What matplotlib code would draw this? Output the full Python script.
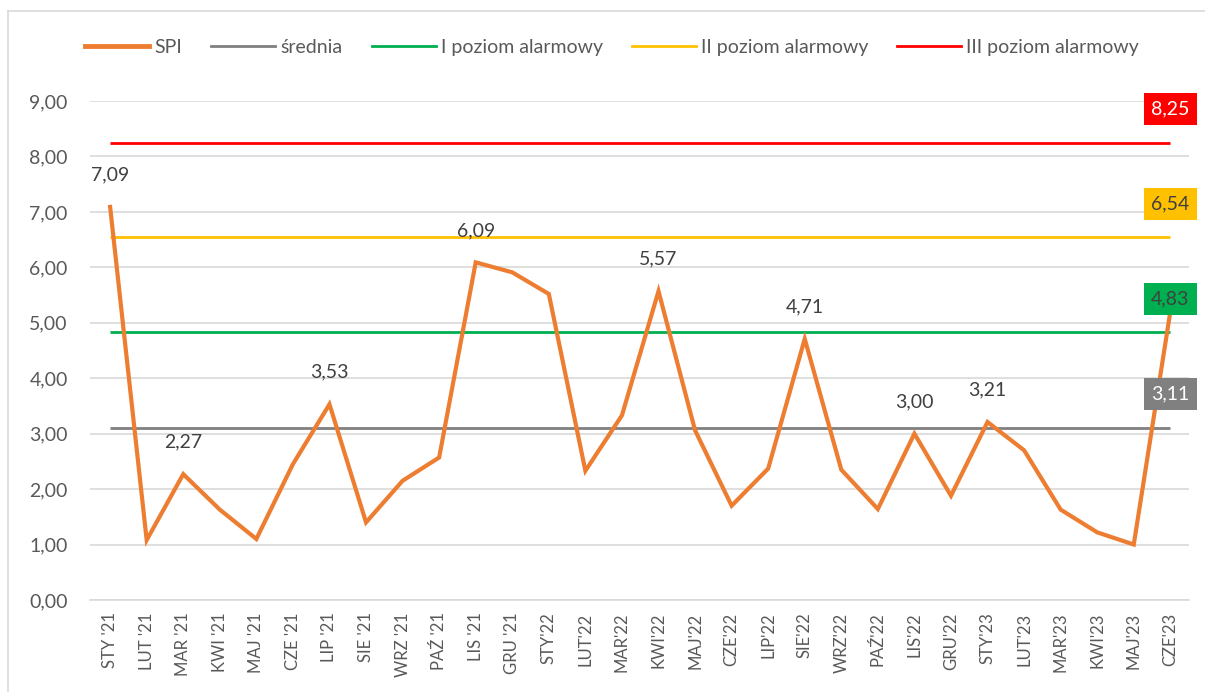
import matplotlib
matplotlib.use("Agg")
import matplotlib.pyplot as plt
from matplotlib.lines import Line2D

plt.rcParams['font.family'] = ['Lato', 'DejaVu Sans']

# -----------------------------
# Data
# -----------------------------
months = ["STY '21", "LUT '21", "MAR '21", "KWI '21", "MAJ '21", "CZE '21",
          "LIP '21", "SIE '21", "WRZ '21", "PAŹ '21", "LIS '21", "GRU '21",
          "STY'22", "LUT'22", "MAR'22", "KWI'22", "MAJ'22", "CZE'22",
          "LIP'22", "SIE'22", "WRZ'22", "PAŹ'22", "LIS'22", "GRU'22",
          "STY'23", "LUT'23", "MAR'23", "KWI'23", "MAJ'23", "CZE'23"]

spi = [7.09, 1.08, 2.27, 1.63, 1.10, 2.45,
       3.53, 1.40, 2.15, 2.57, 6.09, 5.91,
       5.52, 2.33, 3.33, 5.57, 3.06, 1.70,
       2.37, 4.71, 2.35, 1.64, 3.00, 1.88,
       3.21, 2.70, 1.63, 1.22, 1.00, 5.20]

# which points carry a value label
labelled = [0, 2, 6, 10, 15, 19, 22, 24]

srednia = 3.11
poziom_1 = 4.83
poziom_2 = 6.54
poziom_3 = 8.25

y_ticks = [0, 1, 2, 3, 4, 5, 6, 7, 8, 9]

# -----------------------------
# Styles
# -----------------------------
ORANGE = "#ED7D31"
GREY = "#808080"
GREEN = "#00B050"
YELLOW = "#FFC000"
RED = "#FF0000"
TXT = "#404040"
TICK = "#595959"


def fmt(v):
    return f"{v:.2f}".replace(".", ",")


fig = plt.figure(figsize=(12.05, 6.92), dpi=100)
ax = fig.add_axes([0.0747, 0.133, 0.9123, 0.721])

x = list(range(len(months)))
n = len(months)

ref_lines = [
    (srednia, GREY, "white"),
    (poziom_1, GREEN, TXT),
    (poziom_2, YELLOW, TXT),
    (poziom_3, RED, "white"),
]

for val, col, _ in ref_lines:
    ax.plot(x, [val] * n, color=col, lw=2, zorder=2, solid_capstyle="butt")

ax.plot(x, spi, color=ORANGE, lw=3, zorder=3, solid_joinstyle="miter")

# data labels above selected points
for i in labelled:
    ax.annotate(fmt(spi[i]), (x[i], spi[i]), xytext=(0, 23),
                textcoords="offset points", ha="center", va="center",
                fontsize=14, color=TXT, zorder=5)

# boxed labels at the end of the reference lines
for val, col, tc in ref_lines:
    ax.annotate(fmt(val), (x[-1], val), xytext=(0, 24),
                textcoords="offset points", ha="center", va="center",
                fontsize=14, color=tc, zorder=6,
                bbox=dict(boxstyle="square,pad=0.38", fc=col, ec="none"))

# -----------------------------
# Axes styling
# -----------------------------
ax.set_xlim(-0.55, n - 0.48)
ax.set_ylim(0, 9)
ax.set_yticks(y_ticks)
ax.set_yticklabels([fmt(v) for v in y_ticks], fontsize=14, color=TICK)
ax.set_xticks(x)
ax.set_xticklabels(months, rotation=90, fontsize=12, color=TICK)
ax.tick_params(axis="both", length=0)
ax.tick_params(axis="y", pad=16)
ax.tick_params(axis="x", pad=9)
ax.grid(axis="y", color="#D9D9D9", lw=1.2, zorder=0)
for s in ["top", "right", "left"]:
    ax.spines[s].set_visible(False)
ax.spines["bottom"].set_color("#D9D9D9")
ax.spines["bottom"].set_linewidth(1.2)

# legend
handles = [
    Line2D([], [], color=ORANGE, lw=3.5),
    Line2D([], [], color=GREY, lw=2),
    Line2D([], [], color=GREEN, lw=2),
    Line2D([], [], color=YELLOW, lw=2),
    Line2D([], [], color=RED, lw=2),
]
names = ["SPI", "średnia", "I poziom alarmowy", "II poziom alarmowy",
         "III poziom alarmowy"]
leg = fig.legend(handles, names, loc="center", bbox_to_anchor=(0.508, 0.931),
                 ncol=5, frameon=False, fontsize=14, handlelength=3.3,
                 handletextpad=0.25, columnspacing=1.5)
for t in leg.get_texts():
    t.set_color(TICK)

# chart area border (left and top visible)
fig.add_artist(Line2D([8 / 1205, 8 / 1205], [0, 1 - 11 / 692],
                      transform=fig.transFigure, color="#D9D9D9", lw=1.2))
fig.add_artist(Line2D([8 / 1205, 1], [1 - 11 / 692, 1 - 11 / 692],
                      transform=fig.transFigure, color="#D9D9D9", lw=1.2))

fig.savefig("out.png", dpi=100, facecolor="white")
